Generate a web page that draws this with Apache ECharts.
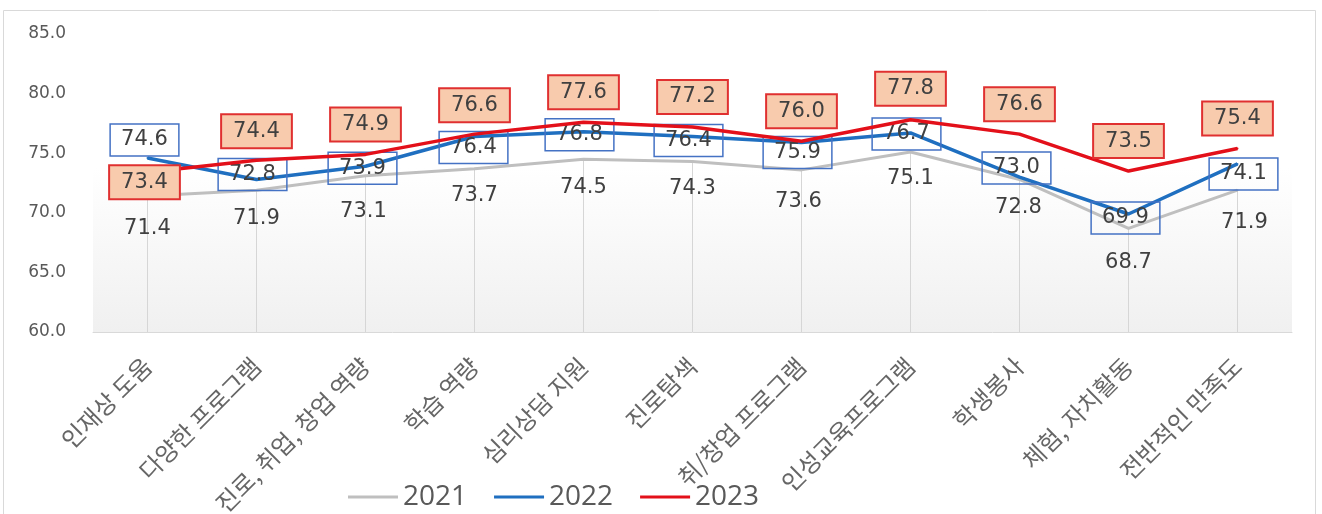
<!DOCTYPE html>
<html>
<head>
<meta charset="utf-8">
<script src="https://cdn.jsdelivr.net/npm/echarts@6/dist/echarts.min.js"></script>
<style>
  html, body { margin: 0; padding: 0; background: #fff; }
  #chart { width: 1322px; height: 514px; }
</style>
</head>
<body>
<div id="chart"></div>
<script>
// 항목 이름
const categories = ['인재상 도움', '다양한 프로그램', '진로, 취업, 창업 역량', '학습 역량', '심리상담 지원',
  '진로탐색', '취/창업 프로그램', '인성교육프로그램', '학생봉사', '체험, 자치활동', '전반적인 만족도']
// 연도별 만족도
const years = ['2021', '2022', '2023']
const values2021 = [71.4, 71.9, 73.1, 73.7, 74.5, 74.3, 73.6, 75.1, 72.8, 68.7, 71.9]
const values2022 = [74.6, 72.8, 73.9, 76.4, 76.8, 76.4, 75.9, 76.7, 73.0, 69.9, 74.1]
const values2023 = [73.4, 74.4, 74.9, 76.6, 77.6, 77.2, 76.0, 77.8, 76.6, 73.5, 75.4]
// y축 눈금
const yMin = 60
const yMax = 85
const yStep = 5

// 라벨 위치 (점 기준 px 이동)
const off2021 = [[0, 32], [0, 28], [-2, 36], [0, 27], [0, 28], [0, 27], [-3, 32], [0, 27], [-1, 28], [0, 34], [7, 32]]
const off2022 = [[-3, -18], [-4, -5], [-3, 2], [-1, 11], [-4, 3], [-4, 4], [-4, 10], [-4, 1], [-3, -9], [-3, 4], [6, 10]]
const off2023 = [[-3, 10], [0, -29], [0, -30], [0, -29], [0, -30], [0, -30], [0, -30], [0, -31], [0, -30], [0, -30], [0, -30]]

const numFont = 'DejaVu Sans'

function withOffsets(values, offsets) {
  return values.map((v, i) => ({ value: v, label: { offset: offsets[i] } }))
}

const chart = echarts.init(document.getElementById('chart'))

const option = {
  animation: false,
  // 바깥 테두리
  graphic: [{
    type: 'rect',
    shape: { x: 3.5, y: 10.5, width: 1312, height: 520 },
    style: { fill: 'none', stroke: '#d9d9d9', lineWidth: 1 },
    silent: true
  }],
  grid: {
    left: 93,
    right: 30,
    top: 34,
    bottom: 182,
    containLabel: false,
    outerBoundsMode: 'none',
    show: true,
    borderWidth: 0,
    backgroundColor: new echarts.graphic.LinearGradient(0, 0, 0, 1, [
      { offset: 0, color: '#ffffff' },
      { offset: 0.45, color: '#ffffff' },
      { offset: 1, color: '#f0f0f0' }
    ])
  },
  legend: {
    data: years,
    left: 343,
    top: 478,
    icon: 'rect',
    itemWidth: 50,
    itemHeight: 3,
    itemGap: 27,
    textStyle: { fontFamily: 'Open Sans', fontSize: 28, color: '#595959' }
  },
  xAxis: {
    type: 'category',
    data: categories,
    boundaryGap: true,
    axisLine: { lineStyle: { color: '#d9d9d9', width: 1 } },
    axisTick: { show: false },
    axisLabel: {
      interval: 0,
      rotate: 45,
      margin: 30,
      fontFamily: 'Noto Sans CJK KR',
      fontSize: 24,
      color: '#666666'
    }
  },
  yAxis: {
    type: 'value',
    min: yMin,
    max: yMax,
    interval: yStep,
    axisLine: { show: false },
    axisTick: { show: false },
    splitLine: { show: false },
    axisLabel: {
      margin: 27,
      fontFamily: numFont,
      fontSize: 17,
      color: '#595959',
      formatter: (v) => v.toFixed(1)
    }
  },
  series: [
    // 2021 값에서 내려오는 세로선
    {
      type: 'bar',
      data: values2021,
      barWidth: 1,
      silent: true,
      z: 1,
      itemStyle: { color: '#d6d6d6' }
    },
    {
      name: '2021',
      type: 'line',
      data: withOffsets(values2021, off2021),
      symbol: 'circle',
      symbolSize: 2,
      z: 3,
      lineStyle: { color: '#bfbfbf', width: 3 },
      itemStyle: { color: '#bfbfbf' },
      label: {
        show: true,
        position: 'inside',
        fontFamily: numFont,
        fontSize: 21,
        color: '#404040',
        formatter: (p) => p.value.toFixed(1)
      }
    },
    {
      name: '2022',
      type: 'line',
      data: withOffsets(values2022, off2022),
      symbol: 'circle',
      symbolSize: 2,
      z: 4,
      lineStyle: { color: '#1f6fc0', width: 3.5 },
      itemStyle: { color: '#1f6fc0' },
      label: {
        show: true,
        position: 'inside',
        fontFamily: numFont,
        fontSize: 21,
        color: '#404040',
        borderColor: '#4472c4',
        borderWidth: 1.5,
        padding: [6, 11, 5, 11],
        formatter: (p) => p.value.toFixed(1)
      }
    },
    {
      name: '2023',
      type: 'line',
      data: withOffsets(values2023, off2023),
      symbol: 'circle',
      symbolSize: 2,
      z: 5,
      lineStyle: { color: '#e3101a', width: 3.5 },
      itemStyle: { color: '#e3101a' },
      label: {
        show: true,
        position: 'inside',
        fontFamily: numFont,
        fontSize: 21,
        color: '#404040',
        backgroundColor: '#f8cbad',
        borderColor: '#e03030',
        borderWidth: 2,
        padding: [6, 11, 5, 11],
        formatter: (p) => p.value.toFixed(1)
      }
    }
  ]
}

chart.setOption(option)
</script>
</body>
</html>
